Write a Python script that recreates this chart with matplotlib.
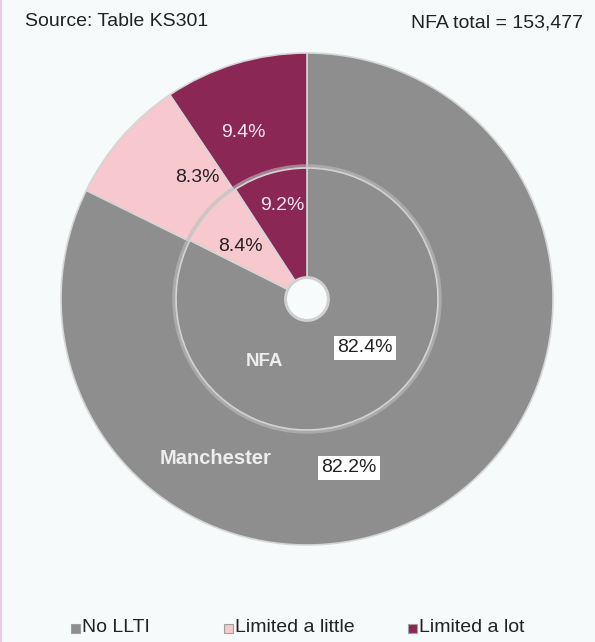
import numpy as np
import matplotlib.pyplot as plt
from matplotlib.patches import Rectangle

plt.rcParams['font.family'] = ['Liberation Sans', 'DejaVu Sans']

categories = ["No LLTI", "Limited a little", "Limited a lot"]
manchester = [82.2, 8.3, 9.4]
nfa = [82.4, 8.4, 9.2]
colors = ["#8e8e8e", "#f7c8ce", "#8a2755"]
total_label = "NFA total = 153,477"
source_label = "Source: Table KS301"

W, H = 595, 642
cx, cy = 307, H - 299
r_out, r_mid, r_hole = 246, 131, 22

fig = plt.figure(figsize=(W / 100, H / 100), dpi=100)
fig.patch.set_facecolor("#f6fafa")
ax = fig.add_axes([0, 0, 1, 1])

# outer ring = Manchester, inner ring = NFA
ax.pie(manchester, colors=colors, startangle=90, counterclock=False,
       radius=r_out, center=(cx, cy), frame=True,
       wedgeprops=dict(width=r_out - r_mid, edgecolor="#d6d6d6", linewidth=1.2))
ax.pie(nfa, colors=colors, startangle=90, counterclock=False,
       radius=r_mid, center=(cx, cy), frame=True,
       wedgeprops=dict(width=r_mid - r_hole, edgecolor="#d6d6d6", linewidth=1.2))
ax.add_patch(plt.Circle((cx, cy), r_hole - 1, facecolor="#f8fbfb",
                        edgecolor="#cfcfcf", linewidth=1.5, zorder=5))
# soft bevel between the rings
ax.add_patch(plt.Circle((cx, cy), r_mid + 2, fill=False, edgecolor="#bdbdbd",
                        linewidth=2.5, alpha=0.6, zorder=4))
ax.set_xlim(0, W)
ax.set_ylim(0, H)
ax.set_aspect("equal")
ax.axis("off")


def polar(r, deg):
    a = np.deg2rad(deg)
    return cx + r * np.cos(a), cy + r * np.sin(a)


# percentage labels
outer_pos = [(174, -76), (164, 132), (178, 111)]
inner_pos = [(76, -40), (85, 142), (97, 105)]
txt_colors = ["#222222", "#222222", "#f3e6ee"]
for ring, pos in ((manchester, outer_pos), (nfa, inner_pos)):
    for i, v in enumerate(ring):
        x, y = polar(*pos[i])
        box = dict(facecolor="white", edgecolor="none", pad=2.5) if i == 0 else None
        ax.text(x, y, f"{v:.1f}%", ha="center", va="center", fontsize=14,
                color=txt_colors[i], bbox=box, zorder=6)

ax.text(216, H - 458, "Manchester", ha="center", va="center", fontsize=14.5,
        color="#eeeeee", fontweight="bold", zorder=6)
ax.text(264, H - 362, "NFA", ha="center", va="center", fontsize=13.5,
        color="#eeeeee", fontweight="bold", zorder=6)

ax.text(25, H - 21, source_label, ha="left", va="center", fontsize=14, color="#222222")
ax.text(583, H - 23, total_label, ha="right", va="center", fontsize=14, color="#222222")

# legend along the bottom
leg_x = [71, 224, 408]
leg_y = H - 628
for x, c, lab in zip(leg_x, colors, categories):
    ax.add_patch(Rectangle((x, leg_y - 4.5), 9, 9, facecolor=c, edgecolor="#a0a0a0",
                           linewidth=0.8))
    ax.text(x + 11, leg_y, lab, ha="left", va="center", fontsize=14, color="#222222")

# thin pink frame at the left edge
fig.add_artist(plt.Line2D([0.002, 0.002], [0, 1], color="#efc8e4", linewidth=1.5,
                          transform=fig.transFigure))

fig.savefig("out.png", dpi=100, facecolor=fig.get_facecolor())
